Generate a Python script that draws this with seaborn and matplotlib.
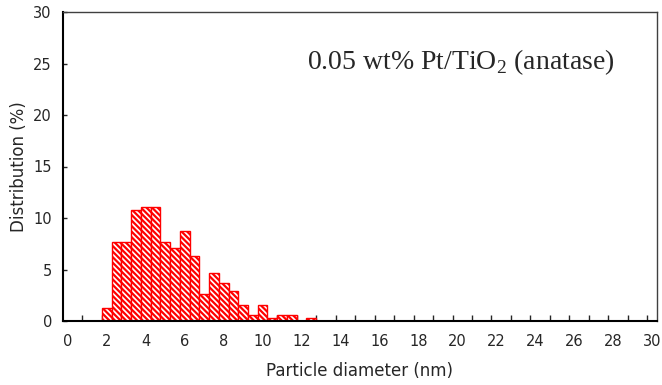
import numpy as np
import pandas as pd
import matplotlib
matplotlib.use("Agg")
import matplotlib.pyplot as plt
import seaborn as sns

# particle size distribution, 0.5 nm bins (bin centres)
diameter = [2.0, 2.5, 3.0, 3.5, 4.0, 4.5, 5.0, 5.5, 6.0, 6.5, 7.0,
            7.5, 8.0, 8.5, 9.0, 9.5, 10.0, 10.5, 11.0, 11.5, 12.0, 12.5]
distribution = [1.25, 7.7, 7.7, 10.8, 11.1, 11.1, 7.7, 7.05, 8.7, 6.3, 2.6,
                4.7, 3.65, 2.95, 1.55, 0.6, 1.55, 0.25, 0.6, 0.6, 0.0, 0.25]
xticks = list(range(0, 31, 2))
yticks = list(range(0, 31, 5))
label_text = "0.05 wt% Pt/TiO$_\\mathregular{2}$ (anatase)"

df = pd.DataFrame({"diameter": diameter, "dist": distribution})

sns.set_style("white")
plt.rcParams['font.family'] = ['DejaVu Sans']
plt.rcParams['hatch.color'] = 'red'
plt.rcParams['hatch.linewidth'] = 1.6

fig = plt.figure(figsize=(6.62, 3.85), dpi=100)
ax = fig.add_axes([63/662, 1-321/385, (657-63)/662, (321-12)/385])

sns.histplot(data=df, x="diameter", weights="dist", binwidth=0.5,
             binrange=(1.75, 12.75), ax=ax, color="white", alpha=1,
             edgecolor="red", linewidth=1.0, hatch="\\\\\\\\\\\\")

ax.set_xlim(-0.25, 30.25)
ax.set_ylim(0, 30)
ax.set_xticks(xticks)
ax.set_xticks(np.arange(0.75, 30, 1.0), minor=True)
ax.set_yticks(yticks)
ax.tick_params(axis="x", which="major", length=0, pad=9, labelsize=10.5)
ax.tick_params(axis="x", which="minor", direction="in", length=4, width=1,
               bottom=True)
ax.tick_params(axis="y", direction="in", length=3, width=1, left=True,
               pad=8, labelsize=10.5)

for side in ["left", "bottom"]:
    ax.spines[side].set_color("black")
    ax.spines[side].set_linewidth(1.5)
for side in ["top", "right"]:
    ax.spines[side].set_color("#404040")
    ax.spines[side].set_linewidth(1.0)

ax.set_xlabel("Particle diameter (nm)", fontsize=12, labelpad=10)
ax.set_ylabel("Distribution (%)", fontsize=12, labelpad=4)

ax.text(0.411, 0.838, label_text, transform=ax.transAxes, ha="left",
        va="center", fontsize=20, family="Liberation Serif")

fig.savefig("out.png", dpi=100)
